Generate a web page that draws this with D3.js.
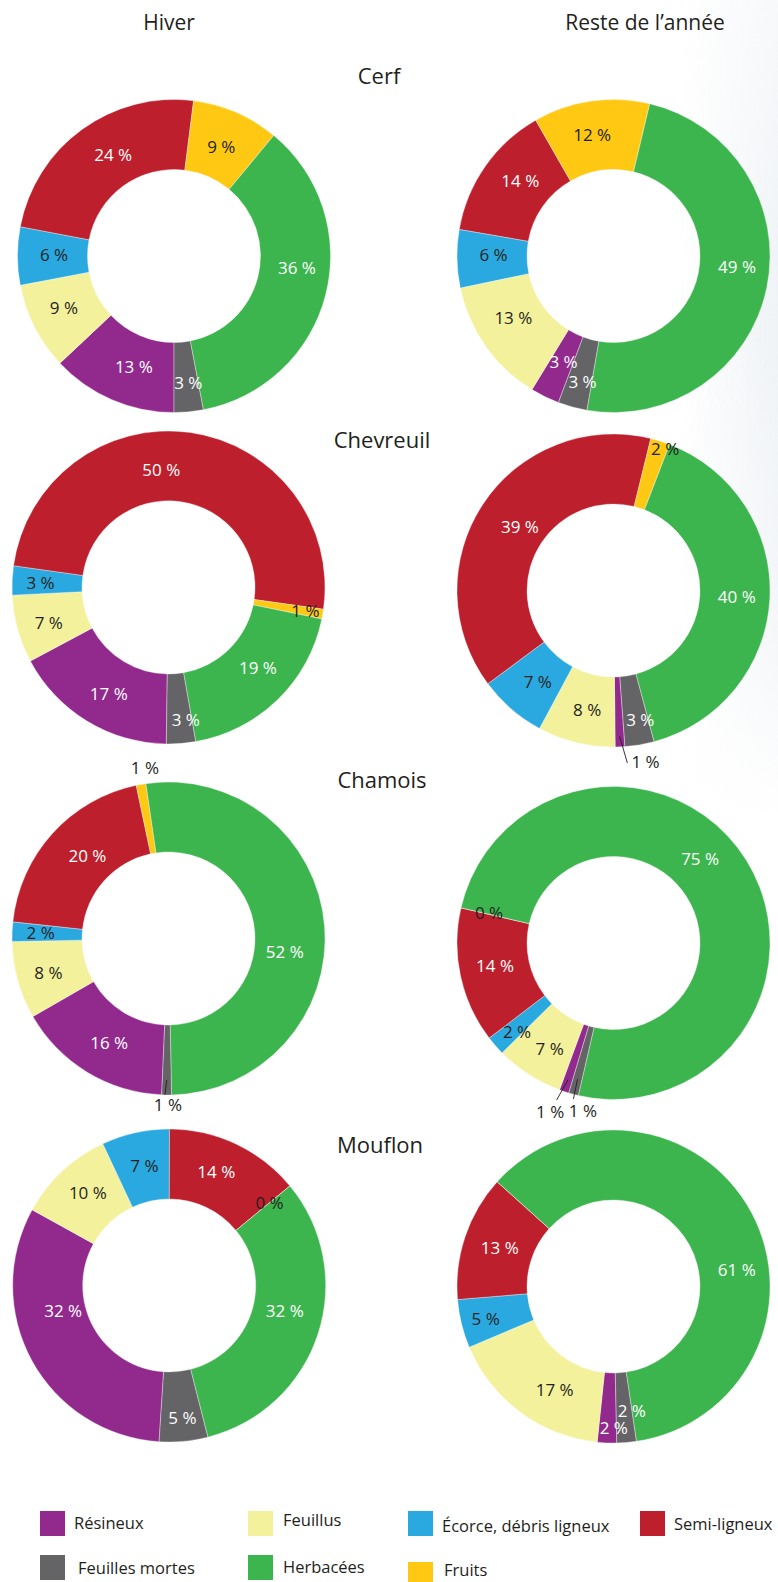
<!DOCTYPE html>
<html>
<head>
<meta charset="utf-8">
<script src="https://cdn.jsdelivr.net/npm/d3@7"></script>
<style>
  html, body { margin: 0; padding: 0; background: #ffffff; }
  svg { display: block; }
  text { font-family: "Open Sans", "Noto Sans", sans-serif; }
</style>
</head>
<body>
<div id="chart"></div>
<script>
// ---------- DATA ----------
const categories = ["Résineux", "Feuillus", "Écorce, débris ligneux", "Semi-ligneux", "Fruits", "Herbacées", "Feuilles mortes"];
const categoryColors = ["#922a8e", "#f4f19c", "#2aa9e0", "#be1f2d", "#fec813", "#3db54e", "#646466"];
const animals = ["Cerf", "Chevreuil", "Chamois", "Mouflon"];
const seasons = ["Hiver", "Reste de l’année"];

// values in %, order = categories
const cerfHiver       = [13, 9, 6, 24, 9, 36, 3];
const cerfReste       = [3, 13, 6, 14, 12, 49, 3];
const chevreuilHiver  = [17, 7, 3, 50, 1, 19, 3];
const chevreuilReste  = [1, 8, 7, 39, 2, 40, 3];
const chamoisHiver    = [16, 8, 2, 20, 1, 52, 1];
const chamoisReste    = [1, 7, 2, 14, 0, 75, 1];
const mouflonHiver    = [32, 10, 7, 14, 0, 32, 5];
const mouflonReste    = [2, 17, 5, 13, 0, 61, 2];

// ---------- LAYOUT (positions / label placement, not data) ----------
const W = 778, H = 1582;
const outerR = 156.5, innerR = 86.5, defaultLabelR = 121;
const darkText = "#231f20";
const lightTextCats = [0, 3, 5, 6]; // white text inside these slices

// label tweaks: da = angle offset from slice middle (deg), r = label radius,
// out = outside label (dark), line = [r start, angle offset end, r end]
const charts = [
  { animal: 0, season: 0, values: cerfHiver, cx: 174, cy: 256, start: 180,
    tw: [{da:-3.5,r:118},{da:1.9,r:121.6},{da:0.5,r:120},{da:5,r:118},{da:0,r:119},{da:-9,r:123.5},{da:-1,r:128}] },
  { animal: 0, season: 1, values: cerfReste, cx: 613.5, cy: 256, start: 200.6,
    tw: [{da:-0.7,r:117},{da:3.3,r:118},{da:1.5,r:120},{da:4,r:120},{da:-1.8,r:123},{da:-6.7,r:124},{da:-1.4,r:130}] },
  { animal: 1, season: 0, values: chevreuilHiver, cx: 168.5, cy: 587.5, start: 180.8,
    tw: [{da:-2.1,r:122},{da:-1.3,r:125},{da:-0.6,r:128},{da:-11.5,r:118},{da:0,r:139,dark:true},{da:-3.7,r:120.6},{da:-2.8,r:134}] },
  { animal: 1, season: 1, values: chevreuilReste, cx: 613.5, cy: 590.5, start: 175.8,
    tw: [{da:-8.2,r:174,out:true,line:[146,-2.2,173]},{da:-1.3,r:122},{da:-1.3,r:119},{da:0.5,r:113},{da:2.6,r:151},{da:0,r:123.5},{da:-2.1,r:132}] },
  { animal: 2, season: 0, values: chamoisHiver, cx: 168.5, cy: 938.5, start: 182.5,
    tw: [{da:-1.8,r:120.4},{da:-0.6,r:125},{da:0,r:128},{da:3.4,r:115.6},{da:2.2,r:172,out:true},{da:11.2,r:117},{da:-0.5,r:166,out:true,line:[141.5,0.6,156.5]}] },
  { animal: 2, season: 1, values: chamoisReste, cx: 613.5, cy: 943, start: 196.6,
    tw: [{da:2.2,r:180,out:true,line:[144,1.5,167]},{da:-1.8,r:124},{da:-1.6,r:131},{da:1.2,r:120.7},{da:0.4,r:128},{da:-12.3,r:121},{da:-4.5,r:171,out:true,line:[141,-0.4,161]}] },
  { animal: 3, season: 0, values: mouflonHiver, cx: 169.2, cy: 1285.5, start: 183.7,
    tw: [{da:15.2,r:109},{da:1.7,r:123},{da:0.8,r:122},{da:-2.8,r:123},{da:0,r:130},{da:-5.7,r:118.4},{da:-0.4,r:133.5}] },
  { animal: 3, season: 1, values: mouflonReste, cx: 613.5, cy: 1286.5, start: 178.8,
    tw: [{da:-2.5,r:141},{da:-7,r:119},{da:-0.6,r:132},{da:0,r:120},{hide:true},{da:20.6,r:124.4},{da:-3.6,r:125.5}] }
];

const headerPos = [{x: 169, y: 30}, {x: 645, y: 30}];
const titlePos = [{x: 379, y: 84}, {x: 382, y: 448}, {x: 382, y: 788}, {x: 380, y: 1153}];

// legend: grid placement for each category (base = text baseline from row top)
const legendCols = [40, 248, 408, 640];
const legendRows = [1511, 1555];
const legendItems = [
  {cat: 0, col: 0, row: 0, dx: 34, base: 18},
  {cat: 1, col: 1, row: 0, dx: 35, base: 15},
  {cat: 2, col: 2, row: 0, dx: 34, base: 21},
  {cat: 3, col: 3, row: 0, dx: 34, base: 19},
  {cat: 6, col: 0, row: 1, dx: 38, base: 19},
  {cat: 5, col: 1, row: 1, dx: 35, base: 18},
  {cat: 4, col: 2, row: 1, dx: 36, base: 21, boxDy: 7}
];

// ---------- DRAW ----------
const svg = d3.select("#chart").append("svg")
  .attr("width", W).attr("height", H).attr("viewBox", `0 0 ${W} ${H}`);

// faint background shading at the right edge
const defs = svg.append("defs");
const gh = defs.append("linearGradient").attr("id", "gh").attr("x1", 0).attr("x2", 1).attr("y1", 0).attr("y2", 0);
gh.append("stop").attr("offset", "0%").attr("stop-color", "#e8edf2").attr("stop-opacity", 0);
gh.append("stop").attr("offset", "100%").attr("stop-color", "#e8edf2").attr("stop-opacity", 0.7);
const gv = defs.append("linearGradient").attr("id", "gv").attr("x1", 0).attr("x2", 0).attr("y1", 0).attr("y2", 1);
gv.append("stop").attr("offset", "0%").attr("stop-color", "#fff").attr("stop-opacity", 0.5);
gv.append("stop").attr("offset", "40%").attr("stop-color", "#fff").attr("stop-opacity", 1);
gv.append("stop").attr("offset", "80%").attr("stop-color", "#fff").attr("stop-opacity", 0.6);
gv.append("stop").attr("offset", "100%").attr("stop-color", "#fff").attr("stop-opacity", 0);
const mask = defs.append("mask").attr("id", "mv");
mask.append("rect").attr("x", 680).attr("y", 0).attr("width", 98).attr("height", 820).attr("fill", "url(#gv)");
svg.append("rect").attr("x", 680).attr("y", 0).attr("width", 98).attr("height", 820)
  .attr("fill", "url(#gh)").attr("mask", "url(#mv)");

const color = d3.scaleOrdinal().domain(d3.range(categories.length)).range(categoryColors);
const deg = Math.PI / 180;
const arc = d3.arc().innerRadius(innerR).outerRadius(outerR);
const fmt = v => `${v} %`;

// headers
svg.selectAll("text.header").data(seasons).join("text")
  .attr("class", "header")
  .attr("x", (d, i) => headerPos[i].x).attr("y", (d, i) => headerPos[i].y)
  .attr("text-anchor", "middle").attr("font-size", 21).attr("fill", darkText)
  .text(d => d);

// row titles
svg.selectAll("text.title").data(animals).join("text")
  .attr("class", "title")
  .attr("x", (d, i) => titlePos[i].x).attr("y", (d, i) => titlePos[i].y)
  .attr("text-anchor", "middle").attr("font-size", 22).attr("fill", darkText)
  .text(d => d);

function polar(cx, cy, r, a) { return [cx + r * Math.sin(a), cy - r * Math.cos(a)]; }

charts.forEach(ch => {
  const pie = d3.pie().sort(null).value(d => d.v)
    .startAngle(ch.start * deg).endAngle(ch.start * deg + 2 * Math.PI);
  const arcs = pie(ch.values.map((v, i) => ({v, i})));
  const g = svg.append("g").attr("transform", `translate(${ch.cx},${ch.cy})`);

  g.selectAll("path").data(arcs).join("path")
    .attr("d", arc)
    .attr("fill", d => color(d.data.i))
    .attr("stroke", "#ffffff").attr("stroke-width", 0.5).attr("stroke-opacity", 0.7);

  arcs.forEach(d => {
    const t = ch.tw[d.data.i] || {};
    if (t.hide) return;
    const mid = (d.startAngle + d.endAngle) / 2;
    const a = mid + (t.da || 0) * deg;
    const r = t.r || defaultLabelR;
    const [x, y] = polar(0, 0, r, a);
    const isLight = lightTextCats.includes(d.data.i) && !t.out && !t.dark;
    if (t.line) {
      const p1 = polar(0, 0, t.line[0], mid);
      const p2 = polar(0, 0, t.line[2], mid + t.line[1] * deg);
      g.append("line").attr("x1", p1[0]).attr("y1", p1[1]).attr("x2", p2[0]).attr("y2", p2[1])
        .attr("stroke", darkText).attr("stroke-width", 0.9);
    }
    g.append("text")
      .attr("x", x).attr("y", y + 17 * 0.357)
      .attr("text-anchor", "middle").attr("font-size", 17)
      .attr("fill", isLight ? "#ffffff" : darkText)
      .text(fmt(d.data.v));
  });
});

// legend
const lg = svg.append("g");
legendItems.forEach(it => {
  const x = legendCols[it.col], rowY = legendRows[it.row];
  lg.append("rect").attr("x", x).attr("y", rowY + (it.boxDy || 0)).attr("width", 25).attr("height", 25)
    .attr("fill", color(it.cat));
  lg.append("text").attr("x", x + it.dx).attr("y", rowY + it.base)
    .attr("font-size", 16.5).attr("fill", darkText)
    .text(categories[it.cat]);
});
</script>
</body>
</html>
